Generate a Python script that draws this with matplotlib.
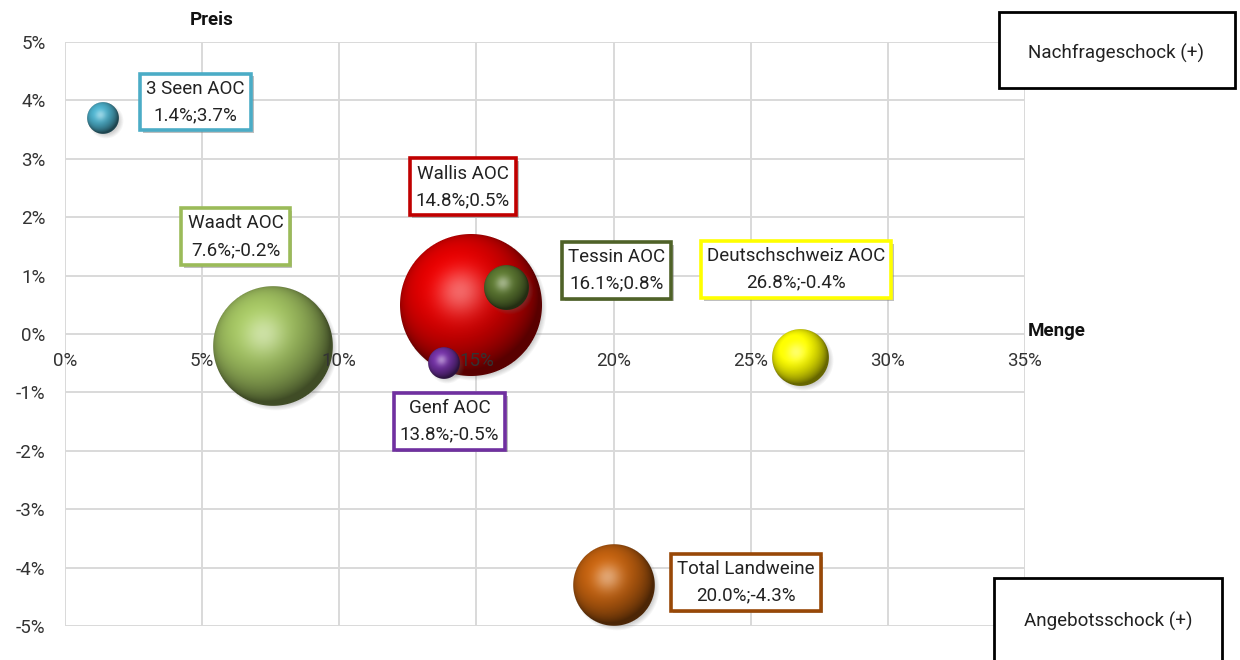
import numpy as np
import matplotlib.pyplot as plt
import matplotlib.patheffects as pe
from matplotlib.colors import to_rgb
from matplotlib.offsetbox import OffsetImage, AnnotationBbox
from matplotlib.patches import Rectangle

# data
names = ['3 Seen AOC', 'Wallis AOC', 'Tessin AOC', 'Genf AOC', 'Waadt AOC',
         'Deutschschweiz AOC', 'Total Landweine']
menge = [1.4, 14.8, 16.1, 13.8, 7.6, 26.8, 20.0]     # x, %
preis = [3.7, 0.5, 0.8, -0.5, -0.2, -0.4, -4.3]      # y, %
groesse = [5, 100, 10, 5, 71, 16, 33]                # bubble size (relative)

colors = ['#4BACC6', '#E00000', '#5A7530', '#7030A0', '#A0C060', '#FFFF00', '#C0600F']
box_colors = ['#4BACC6', '#C00000', '#4F6228', '#7030A0', '#9BBB59', '#FFFF00', '#984807']
# label offsets in pixels (box centre relative to bubble centre)
label_off = [(92, 16), (-8, 118), (110, 17), (6, -58), (-38, 109), (-4, 88), (132, 3)]

FONT = ['Roboto', 'DejaVu Sans']
plt.rcParams['font.family'] = FONT

W, H = 1240, 660
MAX_D = 142  # pixel diameter of the biggest bubble


def sphere_image(diam, color, pad=8):
    rgb = np.array(to_rgb(color))
    r = diam / 2
    n = int(np.ceil(diam + 2 * pad))
    c = (n - 1) / 2
    yy, xx = np.mgrid[0:n, 0:n].astype(float)
    dx = (xx - c) / r
    dy = (c - yy) / r
    d = np.hypot(dx, dy)
    nz = np.sqrt(np.clip(1 - d ** 2, 0, 1))
    L = np.array([-0.3, 0.38, 0.87])
    L /= np.linalg.norm(L)
    diff = np.clip(dx * L[0] + dy * L[1] + nz * L[2], 0, 1)
    shade = 0.4 + 0.68 * diff
    col = rgb[None, None, :] * shade[..., None]
    Hv = L + np.array([0, 0, 1.0])
    Hv /= np.linalg.norm(Hv)
    spec = np.clip(dx * Hv[0] + dy * Hv[1] + nz * Hv[2], 0, 1) ** 18 * 0.4
    col = col + (1 - col) * spec[..., None]
    col = np.clip(col, 0, 1)
    alpha = np.clip(r - d * r + 0.5, 0, 1)
    # soft drop shadow
    ds = np.hypot(xx - c - 3, yy - c - 3)
    sh = np.clip((r + 2 - ds) / 5, 0, 1) * 0.3
    a_out = alpha + sh * (1 - alpha)
    shadow_col = np.array([0.4, 0.4, 0.4])
    rgb_out = (col * alpha[..., None] + shadow_col * (sh * (1 - alpha))[..., None]) / np.maximum(a_out, 1e-6)[..., None]
    return np.dstack([rgb_out, a_out])


fig = plt.figure(figsize=(W / 100, H / 100), dpi=100)
ax = fig.add_axes([65 / W, 34 / H, 960 / W, 584 / H])
ax.set_xlim(0, 35)
ax.set_ylim(-5, 5)

xticks = np.arange(0, 36, 5)
yticks = np.arange(-5, 6, 1)
ax.set_xticks(xticks)
ax.set_yticks(yticks)
ax.set_xticklabels([])
ax.set_yticklabels([f'{v}%' for v in yticks], fontsize=13.5, color='#333333')
ax.tick_params(length=0)
ax.tick_params(axis='y', pad=14)
ax.grid(True, color='#D9D9D9', lw=1.4)
ax.set_axisbelow(True)
for s in ax.spines.values():
    s.set_visible(False)

# bubbles
for x, y, s, c in zip(menge, preis, groesse, colors):
    diam = MAX_D * np.sqrt(s / max(groesse))
    ab = AnnotationBbox(OffsetImage(sphere_image(diam, c), dpi_cor=False), (x, y),
                        frameon=False, pad=0, box_alignment=(0.5, 0.5), zorder=3)
    ax.add_artist(ab)

# x tick labels on the y=0 line (above the bubbles, like the original)
for t in xticks:
    ax.annotate(f'{t}%', (t, 0), xytext=(0, -27), textcoords='offset pixels',
                ha='center', va='center', fontsize=13.5, color='#333333', zorder=5)

# data labels
for name, x, y, bc, off in zip(names, menge, preis, box_colors, label_off):
    txt = ax.annotate(f'{name}\n{x:.1f}%;{y:.1f}%', (x, y), xytext=off,
                      textcoords='offset pixels', ha='center', va='center',
                      multialignment='center', fontsize=13.5, color='#222222',
                      linespacing=1.6, zorder=6,
                      bbox=dict(boxstyle='square,pad=0.33', fc='white', ec=bc, lw=2.6))
    txt.get_bbox_patch().set_path_effects([
        pe.SimplePatchShadow(offset=(2, -2), shadow_rgbFace='#808080', alpha=0.5),
        pe.Normal()])

# axis titles
fig.text(212 / W, 1 - 20 / H, 'Preis', ha='center', va='center', fontsize=13.5,
         fontweight='bold', color='#111111')
fig.text(1028 / W, 1 - 331 / H, 'Menge', ha='left', va='center', fontsize=13.5,
         fontweight='bold', color='#111111')

# corner boxes
fig.patches.append(Rectangle((999 / W, 1 - 88 / H), 236 / W, 76 / H, transform=fig.transFigure,
                             fc='white', ec='black', lw=2, zorder=10))
fig.text(1116 / W, 1 - 53 / H, 'Nachfrageschock (+)', ha='center', va='center',
         fontsize=13.5, color='#222222', zorder=11)
fig.patches.append(Rectangle((994 / W, -10 / H), 228 / W, 92 / H, transform=fig.transFigure,
                             fc='white', ec='black', lw=2, zorder=10))
fig.text(1108 / W, 1 - 621 / H, 'Angebotsschock (+)', ha='center', va='center',
         fontsize=13.5, color='#222222', zorder=11)

fig.savefig('out.png', dpi=100)
